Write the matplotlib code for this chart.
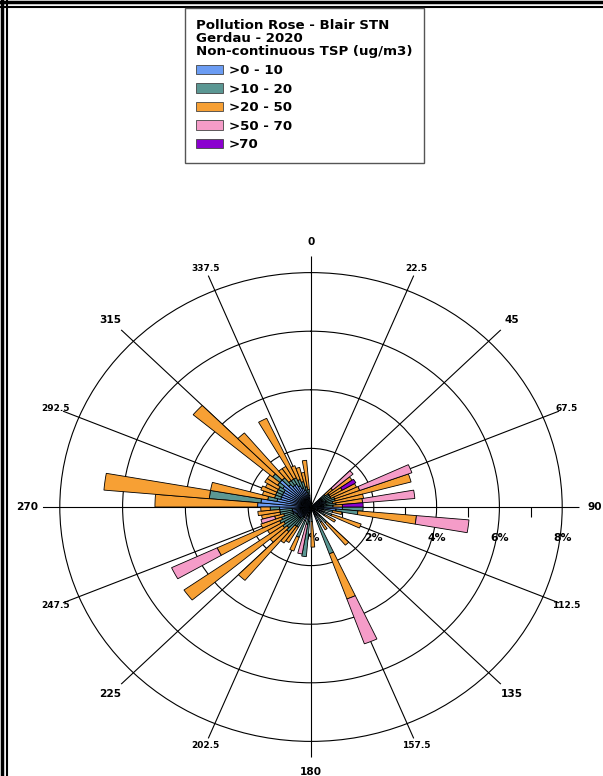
import numpy as np
import matplotlib
matplotlib.use("Agg")
import matplotlib.pyplot as plt
from matplotlib.patches import Patch
from matplotlib.lines import Line2D
import matplotlib.markers as mmarkers

# ---------------- data ----------------
directions = [47.5, 52.5, 57.5, 62.5, 67.5, 72.5, 77.5, 82.5, 87.5, 92.5,
              97.5, 102.5, 112.5, 122.5, 137.5, 147.5, 157.5, 177.5, 187.5, 192.5,
              202.5, 212.5, 217.5, 222.5, 227.5, 232.5, 237.5, 242.5, 247.5, 252.5,
              257.5, 262.5, 267.5, 272.5, 277.5, 282.5, 287.5, 292.5, 297.5, 302.5,
              307.5, 312.5, 317.5, 322.5, 327.5, 332.5, 337.5, 342.5, 347.5, 352.5]
blue = [0.4, 0.4, 0.4, 0.4, 0.5, 0.5, 0.4, 0.5, 0.4, 1.0,
        0.8, 0.4, 0.4, 0.3, 0.4, 0.3, 0.5, 0.3, 0.5, 0.3,
        0.5, 0.4, 0.4, 0.5, 0.5, 0.5, 0.5, 0.5, 0.6, 0.6,
        0.6, 0.6, 1.0, 1.7, 1.6, 1.1, 1.0, 1.0, 1.0, 1.0,
        1.1, 1.3, 1.0, 0.9, 0.9, 0.8, 0.7, 0.6, 0.5, 0.4]
teal = [0.2, 0.3, 0.3, 0.3, 0.3, 0.3, 0.3, 0.3, 0.3, 0.66,
        0.7, 0.3, 0.3, 0.2, 0.3, 0.3, 1.2, 0.2, 1.2, 0.3,
        0.6, 0.4, 0.4, 0.6, 0.5, 0.6, 0.5, 0.6, 0.4, 0.3,
        0.4, 0.4, 0.3, 0.0, 1.65, 0.3, 0.2, 0.2, 0.2, 0.2,
        0.2, 0.3, 0.3, 0.2, 0.2, 0.3, 0.3, 0.3, 0.2, 0.2]
orange = [0.3, 0.9, 0.45, 0.9, 0.85, 2.5, 1.0, 0.85, 0.3, 0.0,
          1.87, 0.3, 1.0, 0.4, 1.0, 0.3, 1.64, 0.87, 0.0, 0.0,
          0.5, 0.6, 0.7, 2.17, 0.7, 3.84, 0.6, 2.2, 0.7, 0.3,
          0.6, 0.7, 0.3, 3.27, 3.37, 1.85, 0.4, 0.5, 0.4, 0.5,
          0.4, 3.3, 2.0, 0.5, 0.5, 2.24, 0.5, 0.5, 0.5, 1.0]
pink = [0.85, 0, 0, 0, 1.77, 0, 0, 1.67, 0, 0,
        1.68, 0, 0, 0, 0, 0, 1.63, 0, 0, 1.03,
        0, 0, 0, 0, 0, 0, 0, 1.6, 0, 0.45,
        0, 0, 0, 0, 0, 0, 0, 0, 0, 0,
        0, 0, 0, 0, 0, 0, 0, 0, 0, 0]
purple = [0, 0, 0.5, 0, 0, 0, 0, 0, 0.66, 0,
          0, 0, 0, 0, 0, 0, 0, 0, 0, 0,
          0, 0, 0, 0, 0, 0, 0, 0, 0, 0,
          0, 0, 0, 0, 0, 0, 0, 0, 0, 0,
          0, 0, 0, 0, 0, 0, 0, 0, 0, 0]

class_labels = [">0 - 10", ">10 - 20", ">20 - 50", ">50 - 70", ">70"]
class_colors = ["#6b9cf3", "#5b9793", "#f7a034", "#f59cc8", "#8b00cf"]
legend_title = "Pollution Rose - Blair STN\nGerdau - 2020\nNon-continuous TSP (ug/m3)"

ring_values = [2, 4, 6, 8]
ring_labels = ["0%", "2%", "4%", "6%", "8%"]
ring_label_pos = [0, 2, 4, 6, 8]
minor_tick_pos = [1, 3, 5, 7]
spoke_angles = [0, 22.5, 45, 67.5, 90, 112.5, 135, 157.5,
                180, 202.5, 225, 247.5, 270, 292.5, 315, 337.5]
spoke_labels = ["0", "22.5", "45", "67.5", "90", "112.5", "135", "157.5",
                "180", "202.5", "225", "247.5", "270", "292.5", "315", "337.5"]
bin_width = 5.0

# ---------------- figure ----------------
W, H = 603, 776
fig = plt.figure(figsize=(W / 100, H / 100), dpi=100)
fig.patch.set_facecolor("white")

FONT = "DejaVu Sans"
cx, cy = 311, 507          # centre in pixels (from top-left)
rmax = 8.55
hx = rmax * 31.4           # horizontal half extent in px
hy = rmax * 29.3           # vertical half extent in px
ax = fig.add_axes([(cx - hx) / W, 1 - (cy + hy) / H, 2 * hx / W, 2 * hy / H],
                  projection="polar")
ax.set_aspect("auto")
ax.set_theta_zero_location("N")
ax.set_theta_direction(-1)
ax.set_ylim(0, rmax)
ax.spines["polar"].set_visible(False)
ax.set_facecolor("none")
ax.set_axisbelow(True)

ax.set_rgrids(ring_values, labels=[""] * len(ring_values))
ax.set_thetagrids(spoke_angles, labels=[""] * len(spoke_angles))
ax.grid(True, color="black", linewidth=0.8)
ax.tick_params(axis="both", length=0)

theta = np.deg2rad(np.array(directions))
series = [np.array(blue), np.array(teal), np.array(orange),
          np.array(pink), np.array(purple)]
bottom = np.zeros(len(directions))
for vals, col in zip(series, class_colors):
    m = vals > 0
    ax.bar(theta[m], vals[m], width=np.deg2rad(bin_width), bottom=bottom[m],
           color=col, edgecolor="black", linewidth=0.6, align="center", zorder=2)
    bottom = bottom + vals

# spoke labels
for a, lab in zip(spoke_angles, spoke_labels):
    major = (a % 45 == 0)
    ax.text(np.deg2rad(a), 9.05 if major else 8.8, lab, ha="center", va="center",
            fontsize=7.6 if major else 6.5, fontweight="bold", family=FONT,
            clip_on=False, zorder=5)

# percentage labels along the east axis
for r, lab in zip(ring_label_pos, ring_labels):
    ax.annotate(lab, xy=(np.pi / 2, r), xytext=(0, -31), textcoords="offset pixels",
                ha="center", va="center", fontsize=7.8, fontweight="bold",
                family=FONT, zorder=1 if r == 0 else 5, annotation_clip=False)

ax.plot(np.full(len(minor_tick_pos), np.pi / 2), minor_tick_pos, linestyle="none",
        marker=mmarkers.TICKDOWN, markersize=7, markeredgewidth=0.8,
        color="black", zorder=1.5, clip_on=False)

# legend
handles = [Patch(facecolor=c, edgecolor="#444444", linewidth=0.6) for c in class_colors]
leg = fig.legend(handles, class_labels, loc="upper left",
                 bbox_to_anchor=(185 / W, 1 - 8 / H), borderaxespad=0,
                 title=legend_title, alignment="left",
                 prop={"family": FONT, "weight": "bold", "size": 9.6},
                 title_fontproperties={"family": FONT, "weight": "bold", "size": 9.6},
                 frameon=True, fancybox=False, framealpha=1, edgecolor="#555555",
                 handlelength=2.0, handleheight=0.72, handletextpad=0.45,
                 labelspacing=0.42, borderpad=0.85)
leg.get_frame().set_linewidth(1.0)
leg.get_title().set_linespacing(1.0)

# page frame lines
for x, lw in [(1.5, 2.5), (6.5, 1.5)]:
    fig.add_artist(Line2D([x / W, x / W], [0, 1], color="black", linewidth=lw))
for y, lw in [(1.5, 2.5), (6.5, 1.5)]:
    fig.add_artist(Line2D([0, 1], [1 - y / H, 1 - y / H], color="black", linewidth=lw))

fig.savefig("out.png", dpi=100, facecolor="white")
